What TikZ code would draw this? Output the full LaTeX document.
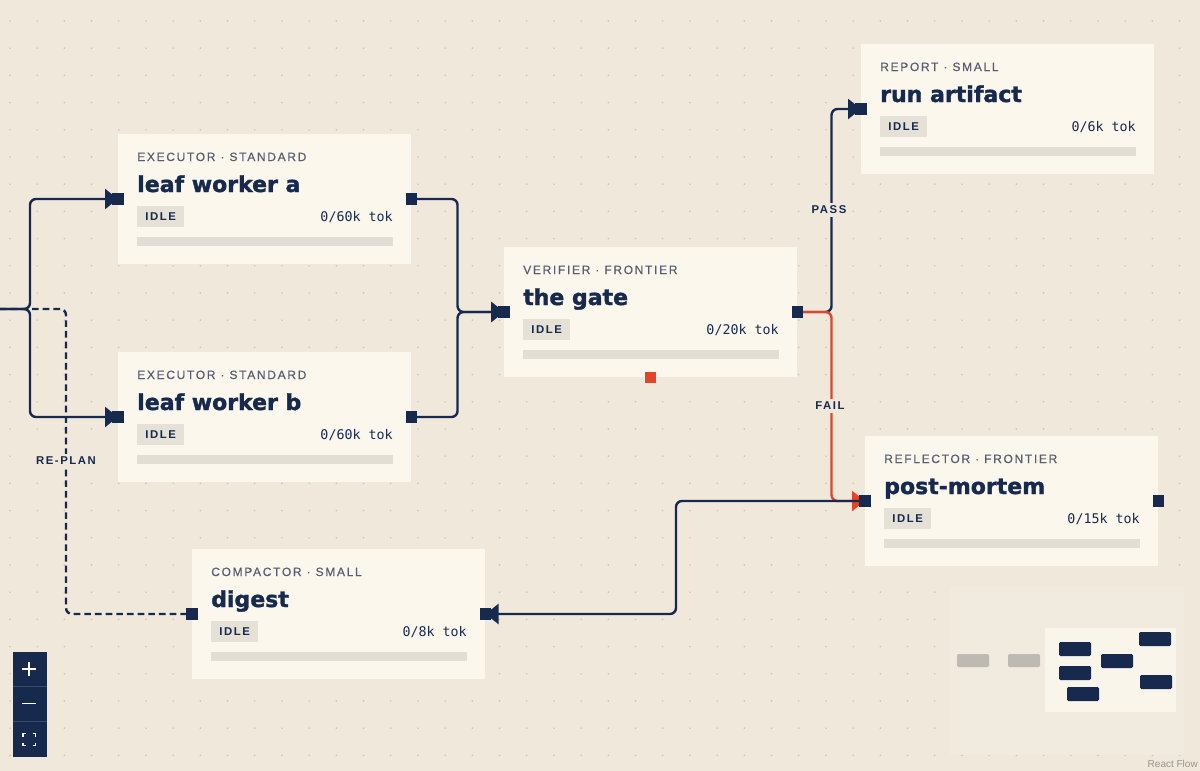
\documentclass[tikz,border=0pt]{standalone}
\usepackage{fontspec}
\usepackage{tikz}
\usetikzlibrary{arrows.meta}
\setmainfont{Liberation Sans}
\newfontfamily\kindfont{Liberation Sans}[LetterSpace=14, FakeBold=0.4]
\newfontfamily\chipfont{Liberation Sans}[LetterSpace=14]
\newfontfamily\headfont{DejaVu Sans}[BoldFeatures={FakeBold=1.6}]
\newfontfamily\tokfont{DejaVu Sans Mono}

\definecolor{navy}{HTML}{172A4E}
\definecolor{failred}{HTML}{E2452C}
\definecolor{canvas}{HTML}{F0E8DB}
\definecolor{cardfill}{HTML}{FBF7EC}
\definecolor{badgefill}{HTML}{E5E1D6}
\definecolor{barfill}{HTML}{E1DED5}
\definecolor{kindgray}{HTML}{585E70}
\definecolor{dotgray}{HTML}{CDC5B8}
\definecolor{mapfill}{HTML}{F1EADF}
\definecolor{viewfill}{HTML}{FAF5EA}
\definecolor{mapgray}{HTML}{BDBAB3}
\definecolor{navyline}{HTML}{3C4B6B}

\tikzset{
  card/.style={fill=cardfill, anchor=north west, inner sep=0pt,
    minimum width=219.75pt, minimum height=97.5pt},
  cardkind/.style={anchor=base west, inner sep=0pt, text=kindgray,
    font=\kindfont\fontsize{9}{10}\selectfont},
  cardtitle/.style={anchor=base west, inner sep=0pt, text=navy,
    font=\headfont\bfseries\fontsize{16.5}{19}\selectfont},
  badge/.style={anchor=north west, fill=badgefill, inner sep=0pt, text=navy,
    minimum width=35.25pt, minimum height=15.75pt,
    font=\chipfont\bfseries\fontsize{8.5}{9}\selectfont},
  cardtok/.style={anchor=base east, inner sep=0pt, text=navy,
    font=\tokfont\fontsize{10}{12}\selectfont},
  handle/.style={rectangle, fill=navy, inner sep=0pt, minimum size=8.5pt},
  wire/.style={draw=navy, line width=1.8pt, rounded corners=4.5pt},
  arrowwire/.style={-{Triangle[length=9.75pt, width=15pt]}},
  wirelabel/.style={fill=canvas, inner sep=2.5pt, text=navy,
    font=\chipfont\bfseries\fontsize{8.5}{9}\selectfont}
}

\newcommand{\agentcard}[6]{%
  \node[card] (#1) at (#2,#3) {};
  \node[cardkind] (#1-kind) at ([shift={(19,27)}]#1.north west) {#4};
  \node[cardtitle] (#1-title) at ([shift={(19,58)}]#1.north west) {#5};
  \node[badge] (#1-badge) at ([shift={(19,72)}]#1.north west) {IDLE};
  \node[cardtok] (#1-tok) at ([shift={(275,87)}]#1.north west) {#6};
  \fill[barfill] ([shift={(19,103)}]#1.north west) rectangle ([shift={(275,112)}]#1.north west);
  \coordinate (#1-in) at ([shift={(0,65)}]#1.north west);
  \coordinate (#1-out) at ([shift={(0,65)}]#1.north east);
}

\begin{document}
\begin{tikzpicture}[x=0.75pt, y=-0.75pt]
  \useasboundingbox (0,0) rectangle (1200,771);
  \fill[canvas] (0,0) rectangle (1200,771);
  \foreach \i in {0,...,43}
    \foreach \j in {0,...,27}
      \fill[dotgray] (10+27.2*\i, 21+27.2*\j) circle (0.7pt);

  \agentcard{a}{118}{134}{EXECUTOR · STANDARD}{leaf worker a}{0/60k tok}
  \agentcard{b}{118}{352}{EXECUTOR · STANDARD}{leaf worker b}{0/60k tok}
  \agentcard{gate}{504}{247}{VERIFIER · FRONTIER}{the gate}{0/20k tok}
  \agentcard{run}{861}{44}{REPORT · SMALL}{run artifact}{0/6k tok}
  \agentcard{post}{865}{436}{REFLECTOR · FRONTIER}{post-mortem}{0/15k tok}
  \agentcard{digest}{192}{549}{COMPACTOR · SMALL}{digest}{0/8k tok}

  \coordinate (entry) at (0,309);

  \draw[wire, dashed, dash pattern=on 5pt off 3pt] (entry) -- ++(66,0) |- (digest-in);
  \draw[wire, arrowwire] (entry) -- ++(30,0) |- (a-in);
  \draw[wire, arrowwire] (entry) -- ++(30,0) |- (b-in);
  \draw[wire, arrowwire] (a-out) -- ++(46,0) |- (gate-in);
  \draw[wire, arrowwire] (b-out) -- ++(46,0) |- (gate-in);
  \draw[wire, arrowwire] (gate-out) -- ++(34,0) |- (run-in);
  \draw[wire, draw=failred, arrowwire] (gate-out) -- ++(34,0) |- (post-in);
  \draw[wire, arrowwire] (post-in) -- ++(-189,0) |- (digest-out);

  \node[wirelabel] (pass) at (829,210) {PASS};
  \node[wirelabel] (fail) at (830,406) {FAIL};
  \node[wirelabel] (replan) at (66,461) {RE-PLAN};

  \foreach \h in {a-in,a-out,b-in,b-out,gate-in,gate-out,run-in,post-in,post-out,digest-in,digest-out}
    \node[handle] at (\h) {};
  \node[handle, fill=failred] (gate-check) at (gate.south) {};

  % controls
  \fill[navy] (13,652) rectangle (47,757);
  \draw[navyline, line width=0.75pt] (13,686.5) -- (47,686.5) (13,721) -- (47,721);
  \draw[white, line width=1.3pt] (22,669) -- (36,669) (29,662) -- (29,676);
  \draw[white, line width=1.3pt] (22,703.5) -- (36,703.5);
  \draw[white, line width=1.1pt]
    (23,736.5) -- (23,733.5) -- (26,733.5)
    (32.5,733.5) -- (35.5,733.5) -- (35.5,736.5)
    (35.5,742.5) -- (35.5,745.5) -- (32.5,745.5)
    (26,745.5) -- (23,745.5) -- (23,742.5);

  % minimap
  \fill[mapfill] (950,587) rectangle (1184,755);
  \fill[viewfill] (1045,628) rectangle (1176,712);
  \fill[mapgray, rounded corners=1pt] (957,654) rectangle (989,667);
  \fill[mapgray, rounded corners=1pt] (1008,654) rectangle (1040,667);
  \foreach \mx/\my in {1059/642, 1101/654, 1139/632, 1059/666, 1067/687, 1140/675}
    \fill[navy, rounded corners=1pt] (\mx,\my) rectangle ++(32,14);
  \node[anchor=south east, inner sep=0pt, text=mapgray!80!black,
    font=\fontsize{7.5}{9}\selectfont] at (1198,768) {React Flow};
\end{tikzpicture}
\end{document}
